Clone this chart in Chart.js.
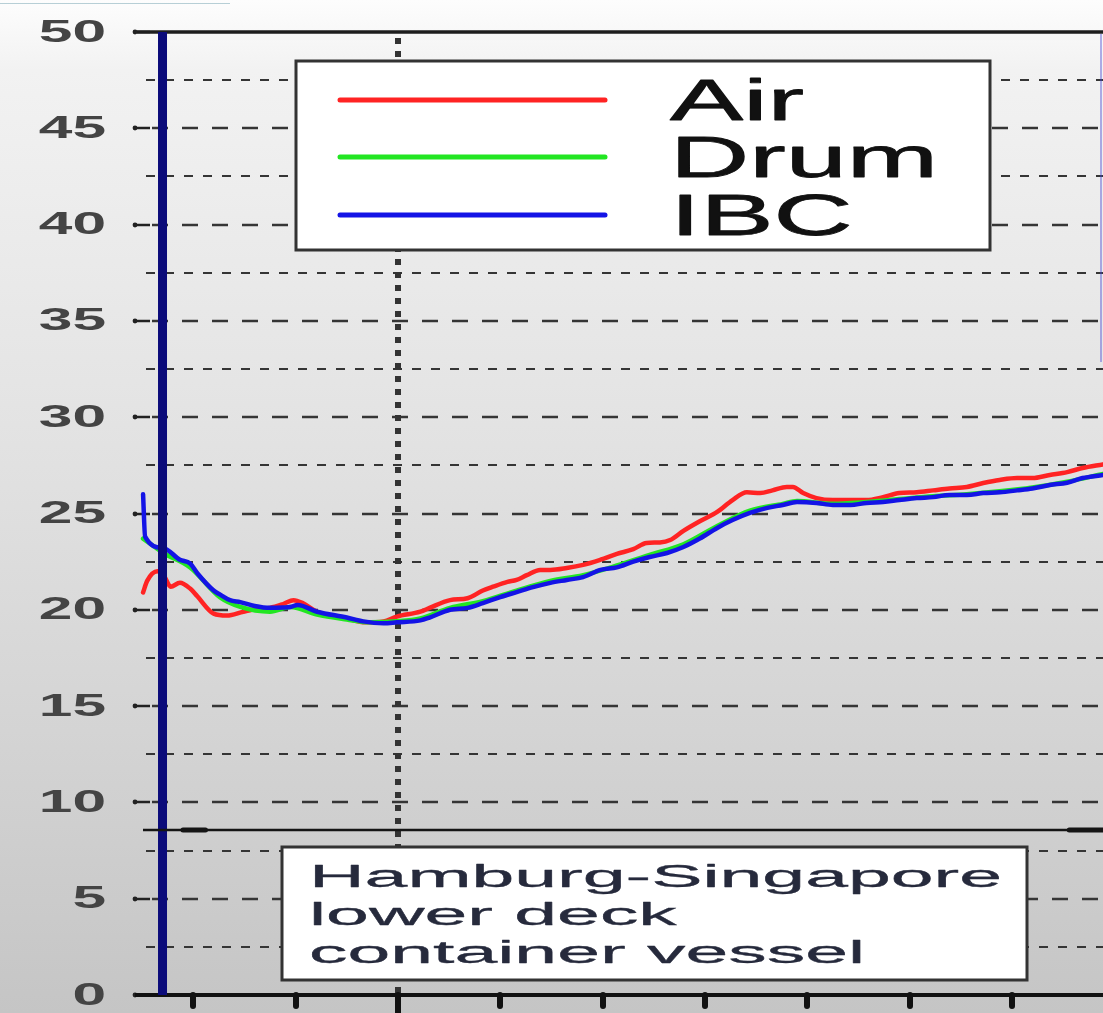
<!DOCTYPE html>
<html>
<head>
<meta charset="utf-8">
<script src="https://cdn.jsdelivr.net/npm/chart.js@4.4.1/dist/chart.umd.min.js"></script>
<style>
  html, body { margin: 0; padding: 0; }
  body {
    width: 1103px; height: 1013px; overflow: hidden;
    background: linear-gradient(to bottom, #fdfdfd 0%, #f2f2f2 7%, #e4e4e4 40%, #d4d4d4 72%, #c5c5c5 100%);
  }
  #wrap { position: relative; width: 1103px; height: 1013px; }
</style>
</head>
<body>
<div id="wrap"><canvas id="c" width="1103" height="1013"></canvas></div>
<script>
// Temperature traces (°C) along the voyage
const seriesNames = ['Air', 'Drum', 'IBC'];
const seriesColors = ['#ff2323', '#22e622', '#1414e6'];

const airX = [0.51,0.55,0.65,0.71,0.78,0.87,0.97,1.04,1.20,1.33,1.49,1.63,1.75,1.88,1.98,2.07,2.21,2.50,2.68,2.86,2.99,3.22,3.31,3.51,3.68,3.83,3.93,4.07,4.16,4.26,4.39,4.49,4.65,4.81,4.98,5.14,5.30,5.43,5.56,5.66,5.79,5.95,6.12,6.27,6.41,6.54,6.66,6.80,6.86,6.96,7.09,7.25,7.42,7.58,7.74,7.90,8.07,8.23,8.39,8.56,8.72,8.88,9.05,9.20,9.37,9.54,9.69,9.89];
const airY = [20.9,21.5,22.0,21.8,21.2,21.4,21.1,20.7,19.8,19.7,19.9,20.05,20.1,20.3,20.5,20.35,19.9,19.55,19.35,19.4,19.65,19.9,20.1,20.5,20.6,21.0,21.2,21.45,21.55,21.8,22.07,22.07,22.17,22.33,22.6,22.9,23.15,23.47,23.5,23.62,24.1,24.6,25.08,25.7,26.1,26.06,26.2,26.38,26.38,26.06,25.8,25.7,25.7,25.7,25.85,26.06,26.1,26.2,26.3,26.38,26.58,26.74,26.84,26.84,27.0,27.15,27.36,27.55];

const drumX = [0.51,0.71,0.97,1.26,1.46,1.75,1.95,2.21,2.50,2.73,2.99,3.22,3.51,3.83,4.16,4.49,4.81,5.14,5.46,5.79,6.12,6.44,6.76,6.90,7.25,7.58,7.90,8.23,8.56,8.88,9.20,9.54,9.89];
const drumY = [23.7,22.95,22.2,20.65,20.15,19.9,20.14,19.75,19.5,19.35,19.4,19.55,20.1,20.45,21.0,21.5,21.8,22.3,22.85,23.4,24.35,25.15,25.5,25.65,25.5,25.6,25.75,25.9,26.0,26.15,26.35,26.65,27.05];

const ibcX = [0.51,0.53,0.71,0.87,0.97,1.04,1.20,1.26,1.36,1.46,1.60,1.75,1.88,1.95,2.02,2.21,2.50,2.66,2.86,2.99,3.22,3.31,3.51,3.68,3.83,4.00,4.16,4.32,4.49,4.65,4.81,4.98,5.14,5.30,5.46,5.63,5.79,5.95,6.12,6.27,6.44,6.61,6.76,6.90,7.09,7.25,7.42,7.58,7.74,7.90,8.07,8.23,8.39,8.56,8.72,8.88,9.05,9.20,9.37,9.54,9.69,9.89];
const ibcY = [26.0,23.8,23.2,22.6,22.4,21.9,21.0,20.8,20.5,20.4,20.2,20.1,20.12,20.15,20.25,19.9,19.6,19.4,19.3,19.35,19.45,19.6,20.0,20.1,20.35,20.66,20.92,21.18,21.4,21.55,21.7,22.07,22.2,22.5,22.74,22.95,23.26,23.7,24.25,24.66,25.03,25.29,25.44,25.6,25.55,25.44,25.44,25.55,25.6,25.7,25.8,25.85,25.96,25.96,26.06,26.1,26.2,26.3,26.48,26.6,26.84,27.0];

// Axis ticks
const yTickLabels = ['0','5','10','15','20','25','30','35','40','45','50'];
const yMinorTicks = [2.5,7.5,12.5,17.5,22.5,27.5,32.5,37.5,42.5,47.5];
const xTicks = [1,2,3,4,5,6,7,8,9];

// Reference lines
const startLineX = 0.70;      // solid navy vertical
const dottedLineX = 3;        // dotted vertical
const rangeLineY = 8.57;      // horizontal range marker
const noteLines = ['Hamburg-Singapore', 'lower deck', 'container vessel'];

const pts = (xs, ys) => xs.map((v, i) => ({ x: v, y: ys[i] }));
const seriesX = [airX, drumX, ibcX];
const seriesY = [airY, drumY, ibcY];

const datasets = seriesNames.map((name, i) => ({
  label: name,
  data: pts(seriesX[i], seriesY[i]),
  borderColor: seriesColors[i],
  borderWidth: 4.5,
  pointRadius: 0,
  tension: 0.3,
  cubicInterpolationMode: 'monotone',
  borderJoinStyle: 'round',
  borderCapStyle: 'round',
  order: 3 - i,
  fill: false
}));

function wideText(ctx, text, x, y, sx, align, strokeW) {
  const w = ctx.measureText(text).width * sx;
  const x0 = align === 'right' ? x - w : x;
  ctx.save();
  ctx.translate(x0, y);
  ctx.scale(sx, 1);
  ctx.textAlign = 'left';
  ctx.fillText(text, 0, 0);
  if (strokeW) {
    ctx.strokeStyle = ctx.fillStyle;
    ctx.lineWidth = strokeW;
    ctx.lineJoin = 'round';
    ctx.strokeText(text, 0, 0);
  }
  ctx.restore();
}

const decor = {
  id: 'decor',
  beforeDatasetsDraw(chart) {
    const { ctx, chartArea: a, scales: { x, y } } = chart;
    ctx.save();
    ctx.lineCap = 'butt';

    // minor dashed grid
    ctx.strokeStyle = '#353535';
    ctx.lineWidth = 2;
    ctx.setLineDash([9, 10]);
    yMinorTicks.forEach(v => {
      const py = Math.round(y.getPixelForValue(v));
      ctx.beginPath(); ctx.moveTo(a.left + 6, py); ctx.lineTo(a.right, py); ctx.stroke();
    });

    // major dashed grid
    ctx.lineWidth = 2.5;
    ctx.setLineDash([16, 14]);
    yTickLabels.forEach(t => {
      const v = Number(t);
      if (v === 0 || v === 50) return;
      const py = Math.round(y.getPixelForValue(v));
      ctx.beginPath(); ctx.moveTo(a.left + 12, py); ctx.lineTo(a.right, py); ctx.stroke();
    });

    // dotted vertical line
    ctx.setLineDash([6, 7]);
    ctx.lineWidth = 6;
    ctx.strokeStyle = '#333';
    const dx = Math.round(x.getPixelForValue(dottedLineX));
    ctx.beginPath(); ctx.moveTo(dx, a.top + 6); ctx.lineTo(dx, a.bottom); ctx.stroke();
    ctx.setLineDash([]);

    // left tick marks
    ctx.strokeStyle = '#222';
    ctx.fillStyle = '#222';
    ctx.lineWidth = 2.5;
    yTickLabels.forEach(t => {
      const py = Math.round(y.getPixelForValue(Number(t)));
      ctx.beginPath(); ctx.moveTo(a.left - 6, py); ctx.lineTo(a.left + 10, py); ctx.stroke();
      ctx.beginPath(); ctx.arc(a.left - 5, py, 2.4, 0, Math.PI * 2); ctx.fill();
    });

    // top frame line
    ctx.lineWidth = 3.5;
    ctx.strokeStyle = '#1e1e1e';
    ctx.beginPath(); ctx.moveTo(a.left - 3, a.top); ctx.lineTo(a.right, a.top); ctx.stroke();

    // bottom axis with ticks
    ctx.lineWidth = 4;
    ctx.strokeStyle = '#111';
    ctx.beginPath(); ctx.moveTo(a.left - 5, a.bottom); ctx.lineTo(a.right, a.bottom); ctx.stroke();
    ctx.lineCap = 'round';
    xTicks.forEach(v => {
      const px = Math.round(x.getPixelForValue(v));
      const major = v === dottedLineX;
      ctx.lineWidth = 6;
      ctx.beginPath(); ctx.moveTo(px, a.bottom); ctx.lineTo(px, major ? a.bottom + 22 : a.bottom + 11); ctx.stroke();
    });

    // y tick labels
    ctx.fillStyle = '#444';
    ctx.font = 'bold 31px "Liberation Sans", Arial, sans-serif';
    ctx.textBaseline = 'middle';
    yTickLabels.forEach(t => {
      const py = y.getPixelForValue(Number(t));
      wideText(ctx, t, a.left - 34, py + 1, 1.95, 'right');
    });

    ctx.restore();
  },
  afterDatasetsDraw(chart) {
    const { ctx, chartArea: a, scales: { x, y } } = chart;
    ctx.save();

    // navy vertical line
    const nx = x.getPixelForValue(startLineX);
    ctx.strokeStyle = '#0b0b7a';
    ctx.lineWidth = 9;
    ctx.beginPath(); ctx.moveTo(nx, a.top); ctx.lineTo(nx, a.bottom); ctx.stroke();

    // horizontal range marker
    const ry = Math.round(y.getPixelForValue(rangeLineY));
    ctx.strokeStyle = '#151515';
    ctx.lineWidth = 2.5;
    ctx.beginPath(); ctx.moveTo(a.left + 3, ry); ctx.lineTo(a.right, ry); ctx.stroke();
    ctx.lineWidth = 5;
    ctx.lineCap = 'round';
    ctx.beginPath(); ctx.moveTo(x.getPixelForValue(0.90), ry); ctx.lineTo(x.getPixelForValue(1.12), ry); ctx.stroke();
    ctx.beginPath(); ctx.moveTo(x.getPixelForValue(9.56), ry); ctx.lineTo(a.right, ry); ctx.stroke();
    ctx.lineCap = 'butt';

    // faint right edge line
    ctx.strokeStyle = 'rgba(70,70,210,0.55)';
    ctx.lineWidth = 1.5;
    ctx.beginPath(); ctx.moveTo(a.right - 2, a.top + 2); ctx.lineTo(a.right - 2, a.top + 330); ctx.stroke();

    // legend box
    const lb = { l: 296, t: 61, r: 990, b: 250 };
    ctx.fillStyle = '#ffffff';
    ctx.fillRect(lb.l, lb.t, lb.r - lb.l, lb.b - lb.t);
    ctx.strokeStyle = '#333';
    ctx.lineWidth = 3;
    ctx.strokeRect(lb.l, lb.t, lb.r - lb.l, lb.b - lb.t);
    ctx.font = '57px "Liberation Sans", Arial, sans-serif';
    ctx.textBaseline = 'alphabetic';
    const lsx = 268 / ctx.measureText('Drum').width;
    const rows = [100, 157, 215];
    chart.data.datasets.forEach((ds, i) => {
      ctx.strokeStyle = ds.borderColor;
      ctx.lineWidth = 5;
      ctx.lineCap = 'round';
      ctx.beginPath(); ctx.moveTo(340, rows[i]); ctx.lineTo(605, rows[i]); ctx.stroke();
      ctx.fillStyle = '#111';
      wideText(ctx, ds.label, 670, rows[i] + 20, lsx, 'left', 0.8);
    });
    ctx.lineCap = 'butt';

    // note box
    const nb = { l: 282, t: 847, r: 1027, b: 980 };
    ctx.fillStyle = '#ffffff';
    ctx.fillRect(nb.l, nb.t, nb.r - nb.l, nb.b - nb.t);
    ctx.strokeStyle = '#333';
    ctx.lineWidth = 3;
    ctx.strokeRect(nb.l, nb.t, nb.r - nb.l, nb.b - nb.t);
    ctx.font = '31px "Liberation Sans", Arial, sans-serif';
    ctx.fillStyle = '#262a3c';
    const nsx = 693 / ctx.measureText(noteLines[0]).width;
    noteLines.forEach((t, i) => wideText(ctx, t, 309, 887 + i * 38, nsx, 'left', 0.3));

    ctx.restore();
  }
};

// thin line across the top-left corner
const corner = {
  id: 'corner',
  afterDraw(chart) {
    const ctx = chart.ctx;
    ctx.save();
    ctx.strokeStyle = '#b7cfd6';
    ctx.lineWidth = 1;
    ctx.beginPath(); ctx.moveTo(0, 3.5); ctx.lineTo(230, 3.5); ctx.stroke();
    ctx.restore();
  }
};

new Chart(document.getElementById('c'), {
  type: 'line',
  data: { datasets },
  options: {
    responsive: false,
    devicePixelRatio: 1,
    animation: false,
    layout: { padding: { left: 140, right: 0, top: 32, bottom: 18 } },
    plugins: { legend: { display: false }, tooltip: { enabled: false } },
    scales: {
      x: { type: 'linear', min: 0.48, max: 9.89, display: false },
      y: { type: 'linear', min: 0, max: 50, display: false }
    }
  },
  plugins: [decor, corner]
});
</script>
</body>
</html>
